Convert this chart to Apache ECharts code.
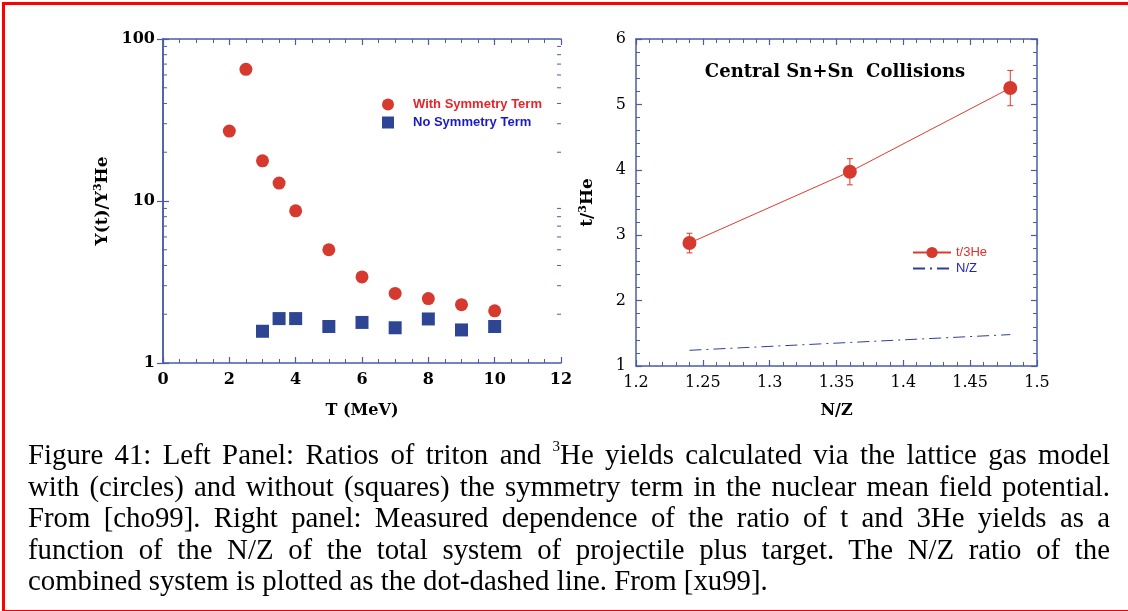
<!DOCTYPE html>
<html>
<head>
<meta charset="utf-8">
<script src="https://cdn.jsdelivr.net/npm/echarts@6/dist/echarts.min.js"></script>
<style>
  html, body { margin: 0; padding: 0; background: #fff; }
  #wrap { position: relative; width: 1128px; height: 611px; overflow: hidden; background: #fff; }
  #chart { position: absolute; left: 0; top: 0; width: 1128px; height: 611px; }
  #frame { position: absolute; left: 2px; top: 2px; width: 1200px; height: 605px;
           border-left: 3px solid #ff0000; border-top: 3px solid #ff0000; border-bottom: 3px solid #ff0000; }
  #cap { position: absolute; left: 28px; top: 439px; width: 1082px;
         font-family: 'Liberation Serif', 'Times New Roman', serif; font-size: 28.8px; line-height: 31.5px; color: #000; }
  #cap div { height: 31.5px; white-space: nowrap; }
  #cap .j { text-align: justify; text-align-last: justify; white-space: normal; }
  #cap .l { text-align: left; }
  #cap sup { font-size: 15px; line-height: 0; vertical-align: 0; position: relative; top: -13px; }
</style>
</head>
<body>
<div id="wrap">
  <div id="chart"></div>
  <div id="frame"></div>
  <div id="cap">
    <div class="j">Figure 41: Left Panel: Ratios of triton and <sup>3</sup>He yields calculated via the lattice gas model</div>
    <div class="j">with (circles) and without (squares) the symmetry term in the nuclear mean field potential.</div>
    <div class="j">From [cho99]. Right panel: Measured dependence of the ratio of t and 3He yields as a</div>
    <div class="j">function of the N/Z of the total system of projectile plus target. The N/Z ratio of the</div>
    <div class="l">combined system is plotted as the dot-dashed line. From [xu99].</div>
  </div>
</div>
<script>
// ---- Left panel data ----
const T_with = [2, 2.5, 3, 3.5, 4, 5, 6, 7, 8, 9, 10];
const Y_with = [27, 65, 17.7, 12.9, 8.7, 5.0, 3.4, 2.69, 2.5, 2.29, 2.1];
const T_no = [3, 3.5, 4, 5, 6, 7, 8, 9, 10];
const Y_no = [1.57, 1.88, 1.88, 1.68, 1.78, 1.65, 1.87, 1.6, 1.68];
const logMinorTicks = [2, 3, 4, 5, 6, 7, 8, 9, 20, 30, 40, 50, 60, 70, 80, 90];

// ---- Right panel data ----
const NZ = [1.24, 1.36, 1.48];
const ratio = [2.88, 3.97, 5.25];
const ratioErr = [0.15, 0.2, 0.27];
const NZline = [1.24, 1.36, 1.48];

const AX = '#4b5ba6';
const SERIF = "'DejaVu Serif', 'Liberation Serif', serif";
const SANS = "'Liberation Sans', Arial, sans-serif";
const RED = '#d63a2f';
const BLUE = '#2d4593';

function axisBase(extra) {
  return Object.assign({
    axisLine: { show: true, lineStyle: { color: AX, width: 1.5 } },
    axisTick: { show: true, inside: true, length: 6, lineStyle: { color: AX, width: 1.2 } },
    splitLine: { show: false },
    minorSplitLine: { show: false }
  }, extra);
}

const chart = echarts.init(document.getElementById('chart'), null, { renderer: 'canvas' });

const option = {
  animation: false,
  backgroundColor: 'transparent',
  title: {
    text: 'Central Sn+Sn  Collisions',
    left: 835, top: 63, textAlign: 'center', padding: 0,
    textStyle: { fontFamily: SERIF, fontWeight: 'bold', fontSize: 18, color: '#000' }
  },
  legend: [
    {
      data: [
        { name: 'With Symmetry Term', icon: 'circle', textStyle: { color: '#e3262a', padding: [0, 0, 0, 14] } },
        { name: 'No Symmetry Term', icon: 'rect', textStyle: { color: '#1a1ac4', padding: [0, 0, 0, 14] } }
      ],
      orient: 'vertical', left: 382, top: 98, padding: 0, itemWidth: 12, itemHeight: 12, itemGap: 5,
      textStyle: { fontFamily: SANS, fontWeight: 'bold', fontSize: 13 },
      selectedMode: false
    },
    {
      data: [
        { name: 't/3He', textStyle: { color: '#e0302a' } },
        { name: 'N/Z', textStyle: { color: '#2222c0' },
          itemStyle: { color: 'rgba(0,0,0,0)', borderColor: 'rgba(0,0,0,0)', borderWidth: 0 } }
      ],
      orient: 'vertical', left: 912, top: 246, padding: 0, itemWidth: 38, itemHeight: 14, itemGap: 3,
      textStyle: { fontFamily: SANS, fontSize: 13 },
      selectedMode: false
    }
  ],
  grid: [
    { left: 163, top: 39, width: 398, height: 324, containLabel: false },
    { left: 636, top: 39, width: 401, height: 327, containLabel: false }
  ],
  xAxis: [
    axisBase({
      gridIndex: 0, type: 'value', min: 0, max: 12, interval: 2, position: 'bottom',
      minorTick: { show: true, splitNumber: 4, length: 4, lineStyle: { color: AX, width: 1 } },
      axisLabel: { margin: 9, fontFamily: SERIF, fontWeight: 'bold', fontSize: 16, color: '#000' },
      name: 'T (MeV)', nameLocation: 'middle', nameGap: 40,
      nameTextStyle: { fontFamily: SERIF, fontWeight: 'bold', fontSize: 16, color: '#000' }
    }),
    axisBase({
      gridIndex: 0, type: 'value', min: 0, max: 12, interval: 2, position: 'top',
      minorTick: { show: true, splitNumber: 4, length: 4, lineStyle: { color: AX, width: 1 } },
      axisLabel: { show: false }
    }),
    axisBase({
      gridIndex: 1, type: 'value', min: 1.2, max: 1.5, interval: 0.05, position: 'bottom',
      minorTick: { show: true, splitNumber: 5, length: 4, lineStyle: { color: AX, width: 1 } },
      axisLabel: { margin: 9, fontFamily: SERIF, fontSize: 16, color: '#000',
                   formatter: v => String(+v.toFixed(2)) },
      name: 'N/Z', nameLocation: 'middle', nameGap: 37,
      nameTextStyle: { fontFamily: SERIF, fontWeight: 'bold', fontSize: 16, color: '#000' }
    }),
    axisBase({
      gridIndex: 1, type: 'value', min: 1.2, max: 1.5, interval: 0.05, position: 'top',
      minorTick: { show: true, splitNumber: 5, length: 4, lineStyle: { color: AX, width: 1 } },
      axisLabel: { show: false }
    })
  ],
  yAxis: [
    axisBase({
      gridIndex: 0, type: 'log', logBase: 10, min: 1, max: 100, position: 'left',
      axisLabel: { margin: 8, fontFamily: SERIF, fontWeight: 'bold', fontSize: 16, color: '#000' },
      name: '{a|Y(t)/Y}{s|3}{a|He}', nameLocation: 'middle', nameGap: 50, nameRotate: 90,
      nameTextStyle: {
        rich: {
          a: { fontFamily: SERIF, fontWeight: 'bold', fontSize: 17, color: '#000', lineHeight: 20 },
          s: { fontFamily: SERIF, fontWeight: 'bold', fontSize: 11, color: '#000', verticalAlign: 'top', lineHeight: 20 }
        }
      }
    }),
    axisBase({
      gridIndex: 0, type: 'log', logBase: 10, min: 1, max: 100, position: 'right',
      axisLabel: { show: false }
    }),
    axisBase({
      gridIndex: 1, type: 'value', min: 1, max: 6, interval: 1, position: 'left',
      minorTick: { show: true, splitNumber: 5, length: 4, lineStyle: { color: AX, width: 1 } },
      axisLabel: { margin: 10, fontFamily: SERIF, fontSize: 16, color: '#000' },
      name: '{a|t/}{s|3}{a|He}', nameLocation: 'middle', nameGap: 38, nameRotate: 90,
      nameTextStyle: {
        rich: {
          a: { fontFamily: SERIF, fontWeight: 'bold', fontSize: 17, color: '#000', lineHeight: 20 },
          s: { fontFamily: SERIF, fontWeight: 'bold', fontSize: 11, color: '#000', verticalAlign: 'top', lineHeight: 20 }
        }
      }
    }),
    axisBase({
      gridIndex: 1, type: 'value', min: 1, max: 6, interval: 1, position: 'right',
      minorTick: { show: true, splitNumber: 5, length: 4, lineStyle: { color: AX, width: 1 } },
      axisLabel: { show: false }
    })
  ],
  series: [
    {
      name: 'With Symmetry Term', type: 'scatter', xAxisIndex: 0, yAxisIndex: 0,
      symbol: 'circle', symbolSize: 13, itemStyle: { color: RED, opacity: 1 },
      data: T_with.map((t, i) => [t, Y_with[i]])
    },
    {
      name: 'No Symmetry Term', type: 'scatter', xAxisIndex: 0, yAxisIndex: 0,
      symbol: 'rect', symbolSize: 13, itemStyle: { color: BLUE, opacity: 1 },
      data: T_no.map((t, i) => [t, Y_no[i]])
    },
    {
      name: 'logMinor', type: 'custom', xAxisIndex: 0, yAxisIndex: 0, silent: true,
      data: logMinorTicks.map(v => [0, v]),
      renderItem: function (params, api) {
        const v = api.value(1);
        const pL = api.coord([0, v]);
        const pR = api.coord([12, v]);
        return {
          type: 'group',
          children: [
            { type: 'line', shape: { x1: pL[0], y1: pL[1], x2: pL[0] + 4, y2: pL[1] }, style: { stroke: AX, lineWidth: 1 } },
            { type: 'line', shape: { x1: pR[0] - 4, y1: pR[1], x2: pR[0], y2: pR[1] }, style: { stroke: AX, lineWidth: 1 } }
          ]
        };
      }
    },
    {
      name: 't/3He', type: 'line', xAxisIndex: 2, yAxisIndex: 2,
      symbol: 'circle', symbolSize: 14, showSymbol: true,
      lineStyle: { color: '#e0392f', width: 1 }, itemStyle: { color: RED },
      data: NZ.map((x, i) => [x, ratio[i]]), z: 3
    },
    {
      name: 'errbars', type: 'custom', xAxisIndex: 2, yAxisIndex: 2, silent: true,
      data: NZ.map((x, i) => [x, ratio[i], ratioErr[i]]),
      renderItem: function (params, api) {
        const x = api.value(0), y = api.value(1), e = api.value(2);
        const top = api.coord([x, y + e]);
        const bot = api.coord([x, y - e]);
        const st = { stroke: '#e0392f', lineWidth: 1 };
        return {
          type: 'group',
          children: [
            { type: 'line', shape: { x1: top[0], y1: top[1], x2: bot[0], y2: bot[1] }, style: st },
            { type: 'line', shape: { x1: top[0] - 3, y1: top[1], x2: top[0] + 3, y2: top[1] }, style: st },
            { type: 'line', shape: { x1: bot[0] - 3, y1: bot[1], x2: bot[0] + 3, y2: bot[1] }, style: st }
          ]
        };
      }
    },
    {
      name: 'N/Z', type: 'line', xAxisIndex: 2, yAxisIndex: 2,
      symbol: 'none', showSymbol: false,
      lineStyle: { color: '#2d3f9a', width: 1, type: [12, 5, 2, 5] }, itemStyle: { color: '#2d3f9a' },
      data: NZ.map((x, i) => [x, NZline[i]])
    }
  ]
};
chart.setOption(option);
</script>
</body>
</html>
